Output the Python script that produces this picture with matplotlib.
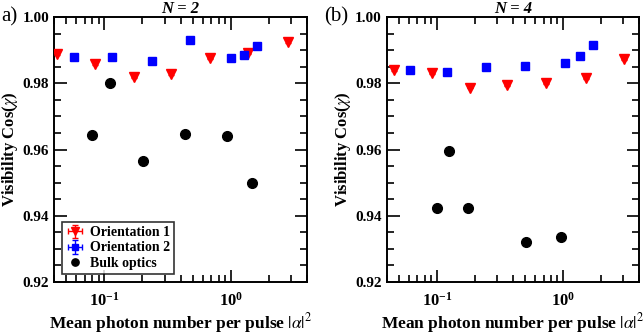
import matplotlib
matplotlib.use("Agg")
import matplotlib.pyplot as plt
from matplotlib.ticker import LogLocator, MultipleLocator, FixedLocator

plt.rcParams["font.family"] = ["Liberation Serif", "DejaVu Serif"]
plt.rcParams["mathtext.fontset"] = "stix"

# N = 2 panel
n2_o1_x = [0.0424, 0.085, 0.170, 0.338, 0.68, 1.37, 2.82]
n2_o1_y = [0.9888, 0.9858, 0.9818, 0.9828, 0.9875, 0.9890, 0.9925]
n2_o2_x = [0.0578, 0.115, 0.236, 0.473, 1.0, 1.275, 1.617]
n2_o2_y = [0.9878, 0.9880, 0.9868, 0.9930, 0.9876, 0.9885, 0.9913]
n2_bulk_x = [0.080, 0.111, 0.201, 0.437, 0.924, 1.476]
n2_bulk_y = [0.9643, 0.9801, 0.9566, 0.9648, 0.9640, 0.9499]

# N = 4 panel
n4_o1_x = [0.0453, 0.0918, 0.184, 0.361, 0.738, 1.506, 3.05]
n4_o1_y = [0.9840, 0.9830, 0.9787, 0.9794, 0.9800, 0.9815, 0.9872]
n4_o2_x = [0.0607, 0.121, 0.244, 0.502, 1.045, 1.357, 1.73]
n4_o2_y = [0.9840, 0.9835, 0.9848, 0.9853, 0.9861, 0.9883, 0.9916]
n4_bulk_x = [0.100, 0.125, 0.176, 0.51, 0.97]
n4_bulk_y = [0.9423, 0.9595, 0.9423, 0.9320, 0.9336]

yticks = [0.92, 0.94, 0.96, 0.98, 1.00]
ytick_labels = ["0.92", "0.94", "0.96", "0.98", "1.00"]

fig = plt.figure(figsize=(6.44, 3.36), dpi=100)
ax1 = fig.add_axes([0.0839, 0.1607, 0.3929, 0.7887])
ax2 = fig.add_axes([0.6005, 0.1607, 0.3918, 0.7887])

panels = [
    (ax1, "a)", 0.002, "N = 2", n2_o1_x, n2_o1_y, n2_o2_x, n2_o2_y, n2_bulk_x, n2_bulk_y),
    (ax2, "(b)", 0.503, "N = 4", n4_o1_x, n4_o1_y, n4_o2_x, n4_o2_y, n4_bulk_x, n4_bulk_y),
]

for ax, tag, tag_x, title, o1x, o1y, o2x, o2y, bx, by in panels:
    h1 = ax.errorbar(o1x, o1y, yerr=0.0002, xerr=0.0, fmt="v", color="red", ms=7.5,
                     capsize=2, elinewidth=1, label="Orientation 1", zorder=3)
    h2 = ax.errorbar(o2x, o2y, yerr=0.0002, xerr=0.0, fmt="s", color="blue", ms=5.5,
                     capsize=2, elinewidth=1, label="Orientation 2", zorder=3)
    h3, = ax.plot(bx, by, "o", color="black", ms=7, label="Bulk optics", zorder=3)

    ax.set_xscale("log")
    ax.set_xlim(0.04, 4)
    ax.set_ylim(0.92, 1.00)
    ax.yaxis.set_major_locator(FixedLocator(yticks))
    ax.set_yticklabels(ytick_labels)
    ax.yaxis.set_minor_locator(MultipleLocator(0.005))
    ax.xaxis.set_major_locator(LogLocator(base=10))
    ax.xaxis.set_minor_locator(LogLocator(base=10, subs=range(2, 10)))
    ax.tick_params(which="both", direction="in", top=True, right=True, width=1.2)
    ax.tick_params(which="major", length=9, labelsize=11)
    ax.tick_params(axis="x", which="major", labelsize=12, pad=7)
    ax.tick_params(which="minor", length=5)
    for lab in ax.get_xticklabels() + ax.get_yticklabels():
        lab.set_fontweight("bold")
    for sp in ax.spines.values():
        sp.set_linewidth(1.4)

    ax.set_xlabel("Mean photon number per pulse $|\\alpha|^2$", fontsize=12.5,
                  fontweight="bold", labelpad=1)
    ax.set_ylabel("Visibility Cos($\\chi$)", fontsize=12, fontweight="bold")
    ax.yaxis.set_label_coords(-0.135, 0.5)
    ax.set_title(title, fontsize=12, fontweight="bold", style="italic", pad=1)
    fig.text(tag_x, 0.949, tag, fontsize=15, ha="left", va="center")

leg = ax1.legend([h1, h2, h3], ["Orientation 1", "Orientation 2", "Bulk optics"],
                 loc="lower left", frameon=True, fancybox=False, markerscale=0.75,
                 edgecolor="black", handlelength=1.2, handletextpad=0.5,
                 borderpad=0.3, labelspacing=0.15, borderaxespad=0.6,
                 prop={"weight": "bold", "size": 10})
leg.get_frame().set_linewidth(1.2)

fig.savefig("out.png", dpi=100)
